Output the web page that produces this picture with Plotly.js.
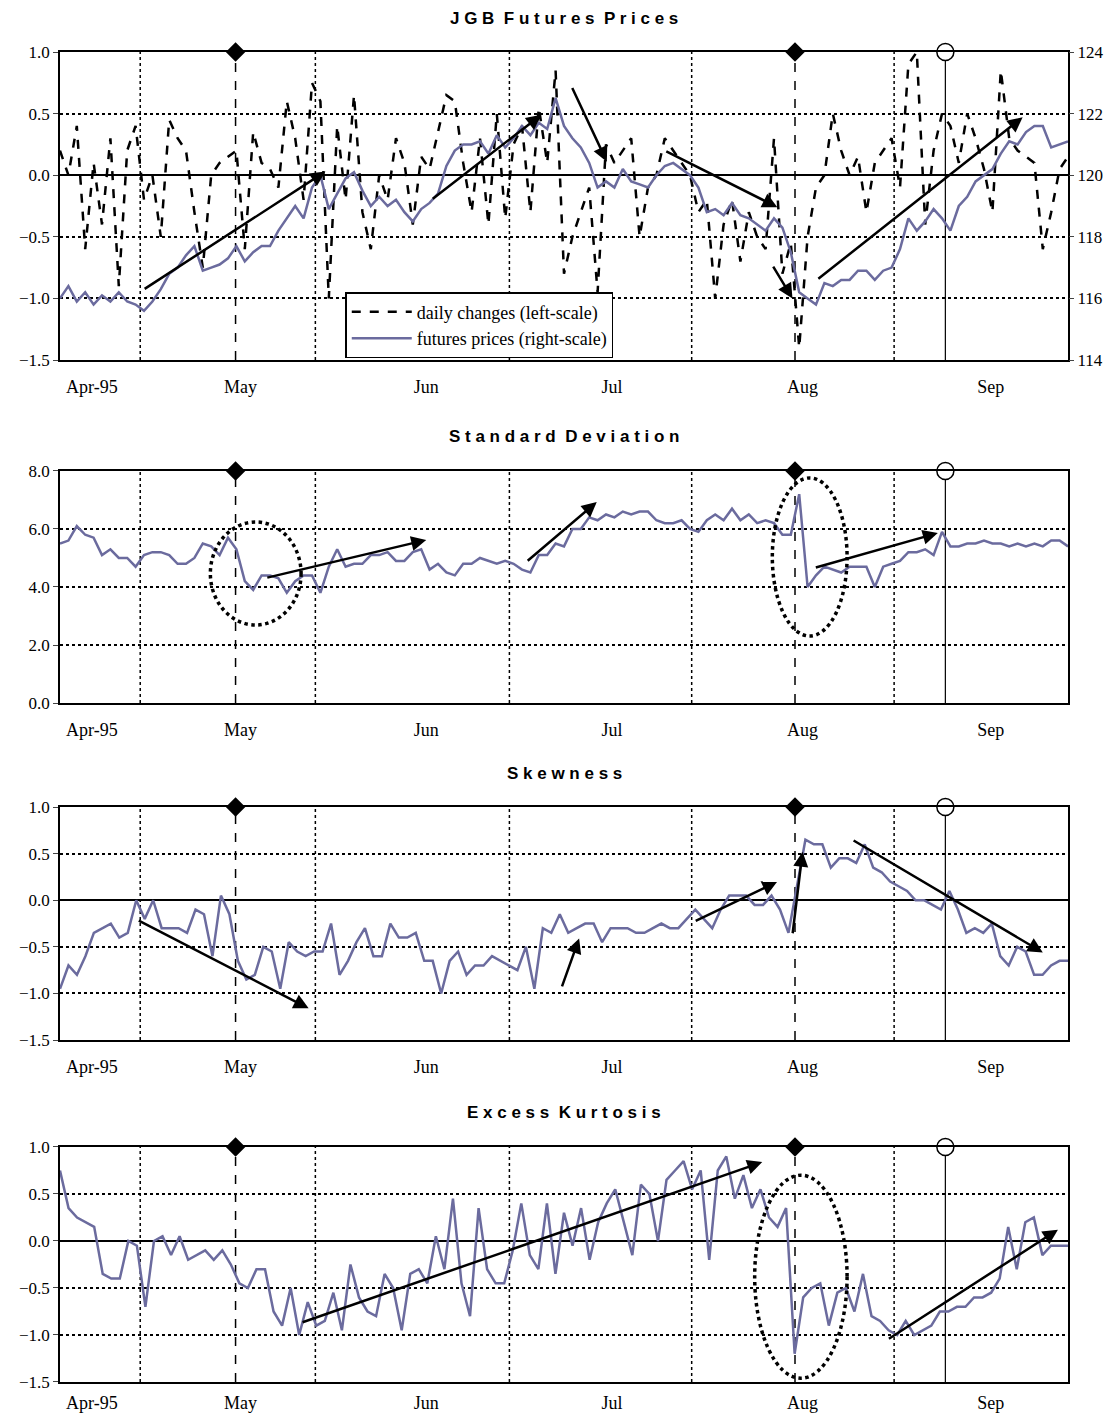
<!DOCTYPE html>
<html><head><meta charset="utf-8">
<script src="https://cdn.plot.ly/plotly-3.0.1.min.js"></script>
<style>body{margin:0;background:#fff}</style></head>
<body><div id="chart" style="width:1120px;height:1418px"></div>
<script>
// trading days Apr-95 .. Sep-95 on an index axis 0..120
var monthTicks = [3.8, 21.5, 43.6, 65.7, 88.4, 110.8];
var monthLabels = ['Apr-95', 'May', 'Jun', 'Jul', 'Aug', 'Sep'];
var dottedDays = [9.55, 30.4, 53.5, 75.2, 99.3];
var dashedDays = [20.9, 87.5];
var solidDays = [105.4];

var futures = [116.0,116.4,115.9,116.2,115.8,116.1,115.9,116.2,115.9,115.8,115.6,115.9,116.3,116.8,117.0,117.4,117.7,116.9,117.0,117.1,
117.3,117.7,117.2,117.5,117.7,117.7,118.2,118.6,119.0,118.6,119.6,120.0,118.9,119.4,119.9,120.1,119.5,119.0,119.3,119.0,
119.2,118.8,118.5,118.9,119.1,119.4,120.3,120.8,121.0,121.0,121.1,120.7,121.3,120.9,121.2,121.6,121.3,121.7,121.5,122.5,
121.6,121.2,120.9,120.4,119.6,119.8,119.6,120.2,119.8,119.7,119.6,120.0,120.3,120.4,120.2,120.0,119.6,118.8,118.9,118.7,
119.1,118.7,118.6,118.4,118.2,118.6,118.3,117.5,116.2,116.0,115.8,116.5,116.4,116.6,116.6,116.9,116.9,116.6,116.9,117.0,
117.6,118.6,118.2,118.5,118.9,118.6,118.2,119.0,119.3,119.8,120.0,120.2,120.7,121.1,121.0,121.4,121.6,121.6,120.9,121.0,121.1];
var daily = [0.2,0.0,0.4,-0.6,0.1,-0.4,0.3,-0.9,0.2,0.4,-0.2,0.0,-0.5,0.45,0.3,0.2,-0.3,-0.75,0.0,0.1,
0.15,0.2,-0.6,0.35,0.1,0.05,-0.1,0.6,0.3,-0.2,0.75,0.6,-1.0,0.4,-0.2,0.65,-0.3,-0.6,0.0,-0.2,
0.3,0.1,-0.4,0.15,0.05,0.35,0.65,0.6,0.1,-0.3,0.3,-0.4,0.5,-0.35,0.25,0.4,-0.3,0.55,0.1,0.85,
-0.8,-0.5,-0.3,-0.1,-0.95,0.25,0.1,0.2,0.3,-0.5,-0.1,0.0,0.3,0.2,0.1,0.0,-0.3,-0.2,-1.0,-0.4,
-0.2,-0.7,-0.3,-0.5,-0.6,0.3,-0.8,-0.55,-1.4,-0.5,-0.1,0.0,0.5,0.2,0.0,0.15,-0.3,0.1,0.2,0.3,
-0.1,0.9,1.0,-0.4,0.2,0.5,0.4,0.1,0.5,0.3,0.05,-0.3,0.85,0.3,0.2,0.15,0.1,-0.6,-0.3,0.05,0.15];
var stdev = [5.5,5.6,6.1,5.8,5.7,5.1,5.3,5.0,5.0,4.7,5.1,5.2,5.2,5.1,4.8,4.8,5.0,5.5,5.4,5.1,
5.7,5.3,4.2,3.9,4.4,4.4,4.3,3.8,4.2,4.4,4.4,3.8,4.7,5.3,4.7,4.8,4.8,5.1,5.1,5.2,
4.9,4.9,5.2,5.3,4.6,4.8,4.5,4.4,4.8,4.8,5.0,4.9,4.8,4.9,4.8,4.6,4.5,5.1,5.1,5.5,
5.4,6.0,6.0,6.4,6.3,6.5,6.4,6.6,6.5,6.6,6.6,6.3,6.2,6.2,6.3,6.0,5.9,6.3,6.5,6.3,
6.7,6.3,6.5,6.2,6.3,6.2,5.8,5.8,7.2,4.0,4.4,4.7,4.6,4.5,4.7,4.7,4.7,4.0,4.7,4.8,
4.9,5.2,5.2,5.3,5.1,5.9,5.4,5.4,5.5,5.5,5.6,5.5,5.5,5.4,5.5,5.4,5.5,5.4,5.6,5.6,5.4];
var skew = [-0.95,-0.7,-0.8,-0.6,-0.35,-0.3,-0.25,-0.4,-0.35,0.0,-0.2,0.0,-0.3,-0.3,-0.3,-0.35,-0.1,-0.15,-0.6,0.05,
-0.15,-0.65,-0.85,-0.8,-0.5,-0.55,-0.95,-0.45,-0.55,-0.6,-0.55,-0.55,-0.25,-0.8,-0.65,-0.45,-0.3,-0.6,-0.6,-0.25,
-0.4,-0.4,-0.35,-0.65,-0.65,-1.0,-0.65,-0.55,-0.8,-0.7,-0.7,-0.6,-0.65,-0.7,-0.75,-0.5,-0.95,-0.3,-0.35,-0.15,
-0.35,-0.3,-0.25,-0.25,-0.45,-0.3,-0.3,-0.3,-0.35,-0.35,-0.3,-0.25,-0.3,-0.3,-0.2,-0.1,-0.2,-0.3,-0.1,0.05,
0.05,0.05,-0.05,-0.05,0.05,-0.1,-0.35,0.15,0.65,0.6,0.6,0.35,0.45,0.45,0.4,0.6,0.35,0.3,0.2,0.15,
0.1,0.0,0.0,-0.05,-0.1,0.1,-0.1,-0.35,-0.3,-0.35,-0.25,-0.6,-0.7,-0.5,-0.55,-0.8,-0.8,-0.7,-0.65,-0.65];
var kurt = [0.75,0.35,0.25,0.2,0.15,-0.35,-0.4,-0.4,0.0,-0.05,-0.7,0.0,0.05,-0.15,0.05,-0.2,-0.15,-0.1,-0.2,-0.1,
-0.25,-0.45,-0.5,-0.3,-0.3,-0.75,-0.9,-0.5,-1.0,-0.65,-0.9,-0.85,-0.55,-0.95,-0.25,-0.6,-0.75,-0.8,-0.35,-0.5,
-0.95,-0.35,-0.3,-0.45,0.05,-0.3,0.45,-0.45,-0.8,0.35,-0.3,-0.45,-0.45,-0.1,0.4,-0.15,-0.3,0.4,-0.35,0.3,
-0.05,0.35,-0.2,0.2,0.4,0.55,0.2,-0.15,0.6,0.5,0.0,0.65,0.75,0.85,0.55,0.75,-0.2,0.75,0.9,0.45,
0.7,0.35,0.55,0.25,0.15,0.35,-1.2,-0.6,-0.5,-0.45,-0.9,-0.55,-0.5,-0.75,-0.35,-0.8,-0.85,-0.95,-1.0,-0.85,
-1.0,-0.95,-0.9,-0.75,-0.75,-0.7,-0.7,-0.6,-0.6,-0.55,-0.4,0.15,-0.3,0.2,0.25,-0.15,-0.05,-0.05,-0.05];

function days(arr){ return arr.map(function(v,i){ return i*120/(arr.length-1); }); }

var lineCol = '#6b6b9e';
var serif = 'Liberation Serif, serif';
var panels = [
  {ya:'y', xa:'x', dom:[0.7684,1], range:[-1.5,1], dtick:0.5, fmt:'.1f'},
  {ya:'y2', xa:'x2', dom:[0.5105,0.685], range:[0,8], dtick:2, fmt:'.1f'},
  {ya:'y3', xa:'x3', dom:[0.2571,0.4323], range:[-1.5,1], dtick:0.5, fmt:'.1f'},
  {ya:'y4', xa:'x4', dom:[0,0.1767], range:[-1.5,1], dtick:0.5, fmt:'.1f'}
];
var titles = ['J G B  F u t u r e s  P r i c e s','S t a n d a r d  D e v i a t i o n','S k e w n e s s','E x c e s s  K u r t o s i s'];

var data = [
  {x:days(daily), y:daily, xaxis:'x', yaxis:'y', mode:'lines', name:'daily changes (left-scale)',
   line:{color:'#000', width:2.5, dash:'dash'}},
  {x:days(futures), y:futures, xaxis:'x', yaxis:'y5', mode:'lines', name:'futures prices (right-scale)',
   line:{color:lineCol, width:2.5}},
  {x:days(stdev), y:stdev, xaxis:'x2', yaxis:'y2', mode:'lines', showlegend:false, line:{color:lineCol, width:2.5}},
  {x:days(skew), y:skew, xaxis:'x3', yaxis:'y3', mode:'lines', showlegend:false, line:{color:lineCol, width:2.5}},
  {x:days(kurt), y:kurt, xaxis:'x4', yaxis:'y4', mode:'lines', showlegend:false, line:{color:lineCol, width:2.5}}
];

var layout = {
  width:1120, height:1418, margin:{l:60, r:52, t:52, b:36},
  paper_bgcolor:'#fff', plot_bgcolor:'#fff', font:{family:serif, size:17, color:'#000'},
  showlegend:true,
  legend:{x:0.283, y:0.8195, xanchor:'left', yanchor:'top', bgcolor:'#fff', bordercolor:'#000', borderwidth:1.5,
          font:{family:serif, size:18}, tracegroupgap:0, itemwidth:60},
  shapes:[], annotations:[]
};

panels.forEach(function(p, k){
  var n = k === 0 ? '' : String(k+1);
  layout['xaxis'+n] = {domain:[0,1], anchor:p.ya, range:[0,120], showgrid:false, zeroline:false,
    tickvals:monthTicks, ticktext:monthLabels, ticks:'', ticklabelstandoff:k === 3 ? 4 : 10, showline:true, mirror:true,
    linecolor:'#000', linewidth:1.5, tickfont:{family:serif, size:18}};
  layout['yaxis'+n] = {domain:p.dom, anchor:p.xa, range:p.range, dtick:p.dtick, tickformat:p.fmt,
    showgrid:true, gridcolor:'#000', griddash:'dot', gridwidth:1.5, zeroline:true, zerolinecolor:'#000', zerolinewidth:1.5,
    showline:true, mirror:true, linecolor:'#000', linewidth:1.5, ticks:'outside', ticklen:5, tickfont:{family:serif, size:17}};
  // vertical event lines
  var addV = function(list, dash, w){
    list.forEach(function(d){
      layout.shapes.push({type:'line', layer:'below', xref:p.xa, yref:p.ya, x0:d, x1:d, y0:p.range[0], y1:p.range[1],
        line:{color:'#000', width:w, dash:dash}});
    });
  };
  addV(dottedDays, 'dot', 1.5); addV(dashedDays, 'dash', 1.5); addV(solidDays, 'solid', 1.2);
  // panel title
  layout.annotations.push({xref:'paper', yref:'paper', x:0.5, y:p.dom[1], yanchor:'middle', yshift:34, showarrow:false,
    text:'<b>'+titles[k]+'</b>', font:{family:'Liberation Sans, Arial', size:17}});
  // markers at top of event lines
  data.push({x:dashedDays, y:[p.range[1], p.range[1]], xaxis:p.xa, yaxis:p.ya, mode:'markers', showlegend:false,
    cliponaxis:false, marker:{symbol:'diamond', size:15, color:'#000'}});
  data.push({x:solidDays, y:[p.range[1]], xaxis:p.xa, yaxis:p.ya, mode:'markers', showlegend:false,
    cliponaxis:false, marker:{symbol:'circle', size:17, color:'#fff', line:{color:'#000', width:1.5}}});
});
layout.yaxis5 = {overlaying:'y', side:'right', anchor:'x', range:[114,124], dtick:2, showgrid:false, zeroline:false,
  ticks:'outside', ticklen:5, tickfont:{family:serif, size:17}};

// trend arrows [panel, fromDay, fromVal, toDay, toVal]
var arrows = [
  [0, 9.9,-0.93, 31.6,0.03], [0, 44.2,-0.2, 57.3,0.49], [0, 60.9,0.72, 65.1,0.11],
  [0, 72,0.2, 85.4,-0.26], [0, 84.8,-0.73, 87.2,-1.0], [0, 90.1,-0.85, 114.6,0.47],
  [1, 24.5,4.31, 43.6,5.62], [1, 55.5,4.86, 63.9,6.93], [1, 89.8,4.66, 104.5,5.86],
  [2, 9.2,-0.21, 29.6,-1.16], [2, 59.7,-0.94, 61.8,-0.41], [2, 75.5,-0.23, 85.4,0.2],
  [2, 87.2,-0.37, 88.4,0.52], [2, 94.3,0.65, 117,-0.56],
  [3, 28.7,-0.87, 83.6,0.84], [3, 98.5,-1.05, 118.8,0.12]
];
arrows.forEach(function(a){
  var p = panels[a[0]];
  layout.annotations.push({xref:p.xa, yref:p.ya, axref:p.xa, ayref:p.ya, x:a[3], y:a[4], ax:a[1], ay:a[2],
    showarrow:true, arrowhead:2, arrowsize:1.2, arrowwidth:2.5, arrowcolor:'#000', text:''});
});
// dotted ovals [panel, x0, x1, y0, y1]
var ovals = [[1, 17.9,28.7, 2.69,6.24], [1, 84.8,93.7, 2.31,7.76], [3, 82.7,93.7, -1.46,0.70]];
ovals.forEach(function(o){
  var p = panels[o[0]];
  layout.shapes.push({type:'circle', xref:p.xa, yref:p.ya, x0:o[1], x1:o[2], y0:o[3], y1:o[4],
    line:{color:'#000', width:3.5, dash:'dot'}});
});

Plotly.newPlot('chart', data, layout, {displayModeBar:false});
</script></body></html>
